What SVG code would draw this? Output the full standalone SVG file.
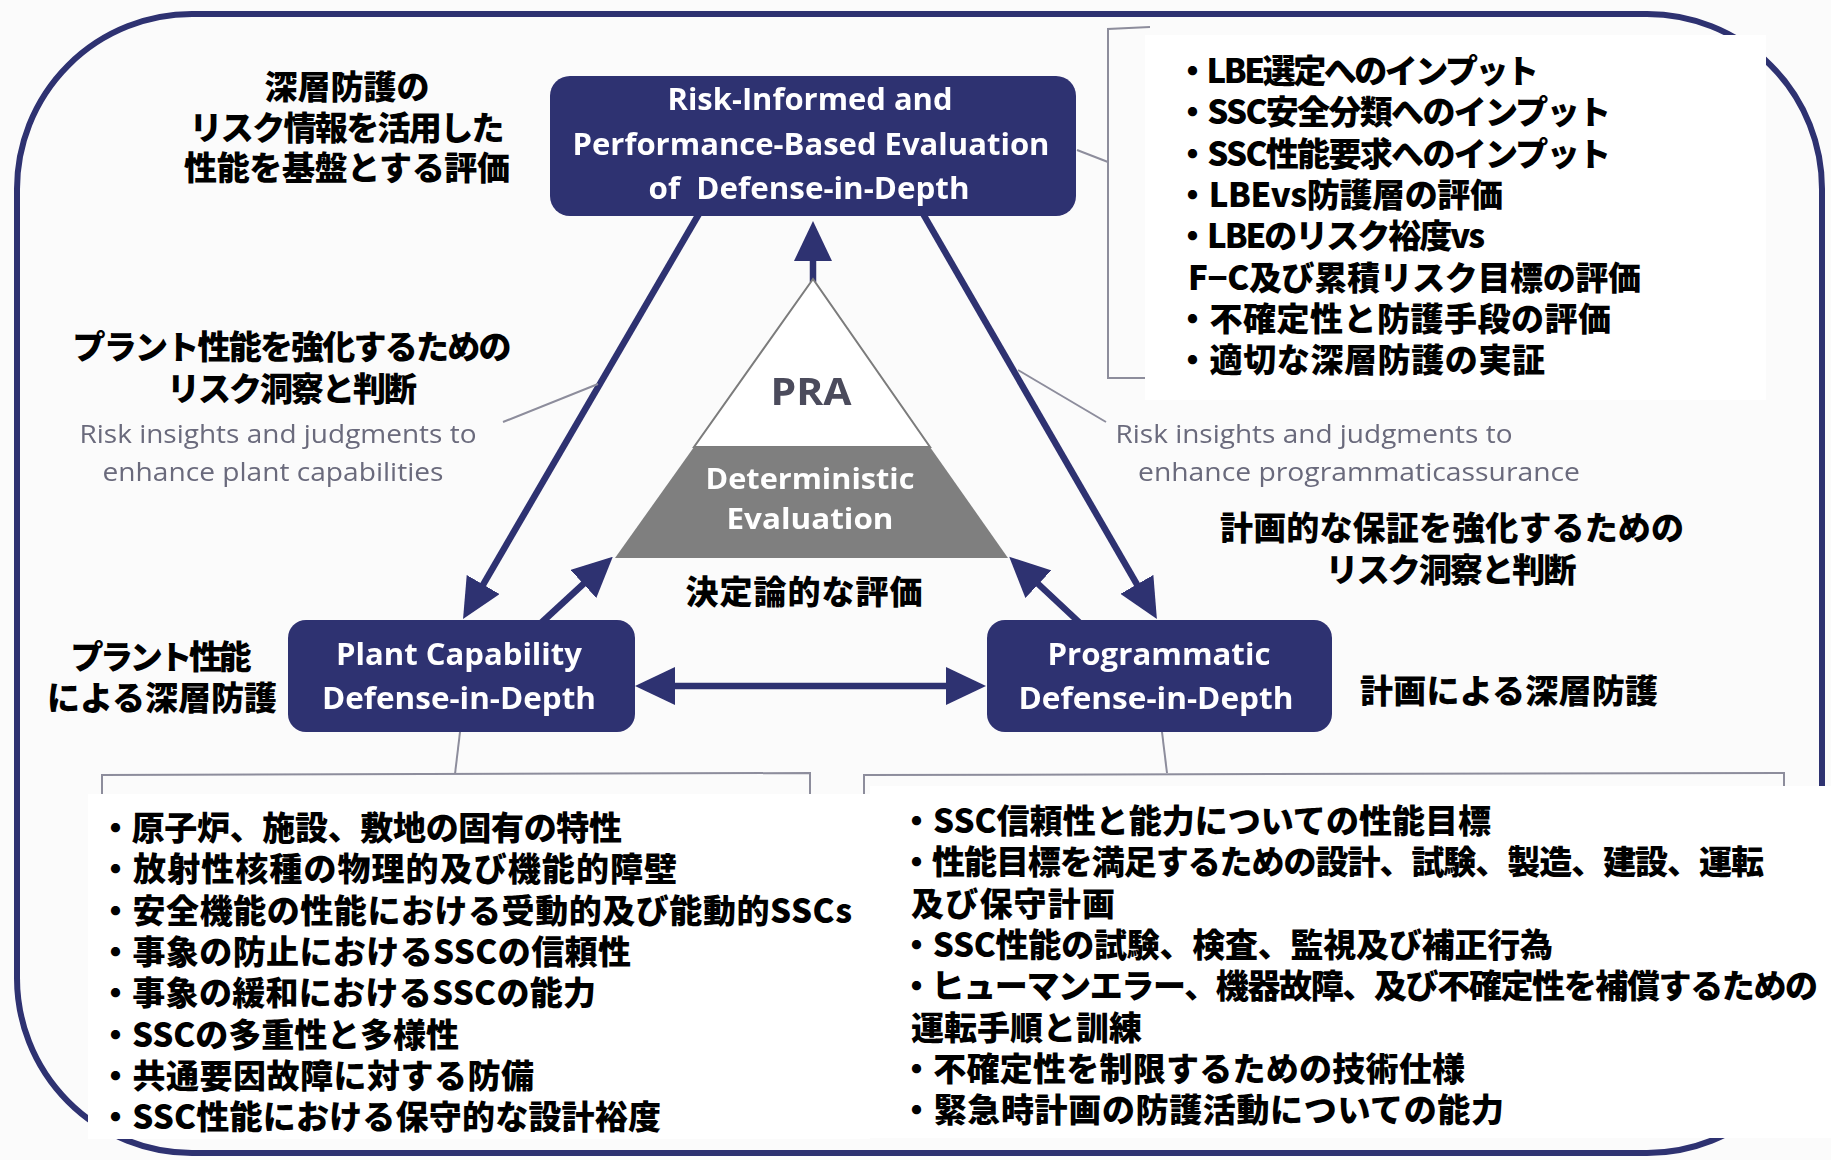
<svg xmlns="http://www.w3.org/2000/svg" width="1831" height="1160" viewBox="0 0 1831 1160">
  <style>
    .box { fill: #2e3071; }
    .btxt { font-family: "Open Sans", "Liberation Sans", sans-serif; font-weight: 700; fill: #ffffff; text-anchor: middle; }
    .note { font-family: "Open Sans", "Liberation Sans", sans-serif; font-weight: 400; font-size: 25px; fill: #6a6a7c; text-anchor: middle; }
    .jp { font-family: "Noto Sans CJK JP", "Noto Sans CJK SC", sans-serif; font-weight: 900; font-size: 33px; fill: #000000; }
    .jpc { text-anchor: middle; }
    .arrow { stroke: #2e3071; stroke-width: 6.5; fill: none; }
    .thin { stroke: #8d8d9c; stroke-width: 2; fill: none; }
    .paper { fill: #ffffff; }
  </style>
  <defs>
    <marker id="head" markerWidth="40" markerHeight="38" refX="20" refY="19" orient="auto-start-reverse" markerUnits="userSpaceOnUse">
      <path d="M0,0 L40,19 L0,38 Z" fill="#2e3071"/>
    </marker>
    <filter id="soft" x="-2%" y="-2%" width="104%" height="104%">
      <feGaussianBlur stdDeviation="0.6"/>
    </filter>
  </defs>

  <rect x="0" y="0" width="1831" height="1160" fill="#fbfbfb"/>

  <!-- base figure -->
  <g id="figure" filter="url(#soft)">
    <!-- outer rounded frame -->
    <path id="frame" d="M192,14 H1647 A175,175 0 0 1 1822,189 V977 A175,175 0 0 1 1647,1153 H192 A175,175 0 0 1 17,977 V189 A175,175 0 0 1 192,14 Z" fill="none" stroke="#2e3071" stroke-width="6"/>

    <g id="connectors">
      <line class="arrow" x1="700" y1="212" x2="473.1" y2="601.8" marker-end="url(#head)"/>
      <line class="arrow" x1="922" y1="212" x2="1146.9" y2="601.7" marker-end="url(#head)"/>
      <line class="arrow" x1="813" y1="282" x2="813" y2="241" marker-end="url(#head)"/>
      <line class="arrow" x1="540" y1="624" x2="598.1" y2="570.4" marker-end="url(#head)"/>
      <line class="arrow" x1="1081" y1="624" x2="1023.8" y2="570.5" marker-end="url(#head)"/>
      <line class="arrow" x1="655" y1="686" x2="966" y2="686" marker-start="url(#head)" marker-end="url(#head)"/>
      <!-- thin leader lines and brackets -->
      <line class="thin" x1="598" y1="384" x2="503" y2="422"/>
      <line class="thin" x1="1018" y1="370" x2="1106" y2="422"/>
      <line class="thin" x1="1077" y1="150" x2="1108" y2="162"/>
      <polyline class="thin" points="1150,27 1108,29 1108,378 1150,378"/>
      <line class="thin" x1="460" y1="732" x2="455" y2="774"/>
      <polyline class="thin" points="102,795 102,775 810,773 810,795"/>
      <line class="thin" x1="1162" y1="732" x2="1167" y2="773"/>
      <polyline class="thin" points="864,795 864,775 1784,773 1784,790"/>
    </g>

    <g id="node-pra">
      <polygon points="813,279 694,447 930,447" fill="#ffffff" stroke="#7b7b7b" stroke-width="2"/>
      <polygon points="694,447 930,447 1008,558 615,558" fill="#7f7f7f"/>
      <text x="811" y="405" font-family="'Open Sans', 'Liberation Sans', sans-serif" font-weight="700" font-size="38" fill="#4b4b5c" text-anchor="middle" textLength="81" lengthAdjust="spacingAndGlyphs">PRA</text>
      <text class="btxt" x="810" y="489" font-size="29" textLength="209" lengthAdjust="spacingAndGlyphs">Deterministic</text>
      <text class="btxt" x="810" y="529" font-size="29" textLength="167" lengthAdjust="spacingAndGlyphs">Evaluation</text>
    </g>

    <g id="node-risk">
      <rect class="box" x="550" y="76" width="526" height="140" rx="20"/>
      <text class="btxt" x="810" y="110" font-size="31" textLength="285" lengthAdjust="spacingAndGlyphs">Risk-Informed and</text>
      <text class="btxt" x="811" y="155" font-size="31" textLength="477" lengthAdjust="spacingAndGlyphs">Performance-Based Evaluation</text>
      <text class="btxt" x="809" y="199" font-size="31" textLength="321" lengthAdjust="spacingAndGlyphs" xml:space="preserve">of  Defense-in-Depth</text>
    </g>

    <g id="node-plant">
      <rect class="box" x="288" y="620" width="347" height="112" rx="18"/>
      <text class="btxt" x="459" y="665" font-size="30" textLength="246" lengthAdjust="spacingAndGlyphs">Plant Capability</text>
      <text class="btxt" x="459" y="709" font-size="30" textLength="274" lengthAdjust="spacingAndGlyphs">Defense-in-Depth</text>
    </g>

    <g id="node-programmatic">
      <rect class="box" x="987" y="620" width="345" height="112" rx="18"/>
      <text class="btxt" x="1159" y="665" font-size="30" textLength="223" lengthAdjust="spacingAndGlyphs">Programmatic</text>
      <text class="btxt" x="1156" y="709" font-size="30" textLength="275" lengthAdjust="spacingAndGlyphs">Defense-in-Depth</text>
    </g>

    <g id="notes-en">
      <text class="note" x="278" y="443" textLength="397" lengthAdjust="spacingAndGlyphs">Risk insights and judgments to</text>
      <text class="note" x="273" y="481" textLength="341" lengthAdjust="spacingAndGlyphs">enhance plant capabilities</text>
      <text class="note" x="1314" y="443" textLength="397" lengthAdjust="spacingAndGlyphs">Risk insights and judgments to</text>
      <text class="note" x="1359" y="481" textLength="442" lengthAdjust="spacingAndGlyphs">enhance programmaticassurance</text>
    </g>
  </g>

  <!-- Japanese overlay: pasted white panels and labels -->
  <g id="panels">
    <rect class="paper" x="1145" y="35" width="621" height="365"/>
    <rect class="paper" x="88" y="794" width="782" height="345"/>
    <rect class="paper" x="870" y="786" width="961" height="352"/>
  </g>

  <g id="labels-jp" class="jp">
    <text class="jpc" x="347" y="99" textLength="165">深層防護の</text>
    <text class="jpc" x="347" y="140" textLength="315">リスク情報を活用した</text>
    <text class="jpc" x="347" y="180" textLength="326">性能を基盤とする評価</text>

    <text class="jpc" x="292" y="359" textLength="439">プラント性能を強化するための</text>
    <text class="jpc" x="292" y="401" textLength="250">リスク洞察と判断</text>

    <text class="jpc" x="1452" y="540" textLength="464">計画的な保証を強化するための</text>
    <text class="jpc" x="1451" y="582" textLength="251">リスク洞察と判断</text>

    <text class="jpc" x="804" y="604" textLength="237">決定論的な評価</text>

    <text class="jpc" x="161" y="669" textLength="181">プラント性能</text>
    <text class="jpc" x="162" y="710" textLength="230">による深層防護</text>

    <text x="1360" y="703" textLength="298">計画による深層防護</text>
  </g>

  <g id="list-risk" class="jp">
    <text x="1176" y="83" textLength="363">・LBE選定へのインプット</text>
    <text x="1176" y="124" textLength="435">・SSC安全分類へのインプット</text>
    <text x="1176" y="166" textLength="435">・SSC性能要求へのインプット</text>
    <text x="1176" y="207" textLength="327">・LBEvs防護層の評価</text>
    <text x="1176" y="248" textLength="309">・LBEのリスク裕度vs</text>
    <text x="1188" y="290" textLength="453">F−C及び累積リスク目標の評価</text>
    <text x="1176" y="331" textLength="435">・不確定性と防護手段の評価</text>
    <text x="1176" y="372" textLength="369">・適切な深層防護の実証</text>
  </g>

  <g id="list-plant" class="jp">
    <text x="99" y="840" textLength="523">・原子炉、施設、敷地の固有の特性</text>
    <text x="99" y="881" textLength="578">・放射性核種の物理的及び機能的障壁</text>
    <text x="99" y="923" textLength="753">・安全機能の性能における受動的及び能動的SSCs</text>
    <text x="99" y="964" textLength="532">・事象の防止におけるSSCの信頼性</text>
    <text x="99" y="1005" textLength="497">・事象の緩和におけるSSCの能力</text>
    <text x="99" y="1047" textLength="360">・SSCの多重性と多様性</text>
    <text x="99" y="1088" textLength="435">・共通要因故障に対する防備</text>
    <text x="99" y="1129" textLength="562">・SSC性能における保守的な設計裕度</text>
  </g>

  <g id="list-programmatic" class="jp">
    <text x="900" y="833" textLength="591">・SSC信頼性と能力についての性能目標</text>
    <text x="900" y="874" textLength="864">・性能目標を満足するための設計、試験、製造、建設、運転</text>
    <text x="911" y="916" textLength="204">及び保守計画</text>
    <text x="900" y="957" textLength="653">・SSC性能の試験、検査、監視及び補正行為</text>
    <text x="900" y="998" textLength="918">・ヒューマンエラー、機器故障、及び不確定性を補償するための</text>
    <text x="911" y="1040" textLength="231">運転手順と訓練</text>
    <text x="900" y="1081" textLength="565">・不確定性を制限するための技術仕様</text>
    <text x="900" y="1122" textLength="604">・緊急時計画の防護活動についての能力</text>
  </g>
</svg>
